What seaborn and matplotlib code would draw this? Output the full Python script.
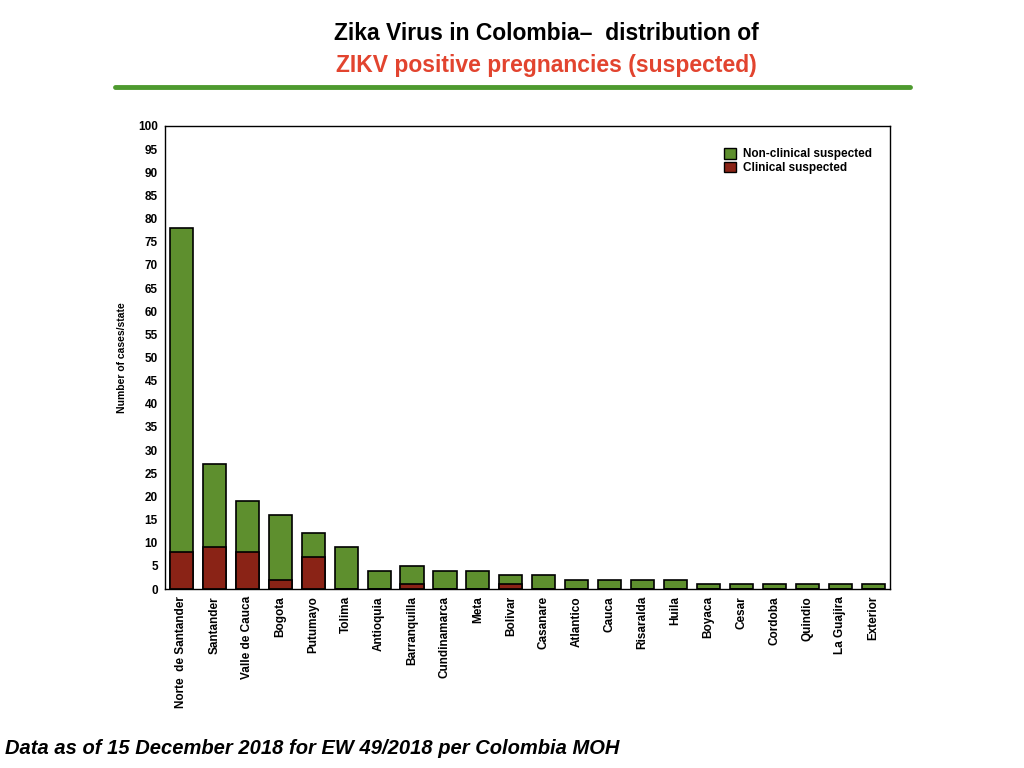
import matplotlib.pyplot as plt
import pandas as pd
import seaborn as sns
from matplotlib.patches import Patch
from matplotlib.lines import Line2D

states = ["Norte  de Santander", "Santander", "Valle de Cauca", "Bogota", "Putumayo",
          "Tolima", "Antioquia", "Barranquilla", "Cundinamarca", "Meta", "Bolivar",
          "Casanare", "Atlantico", "Cauca", "Risaralda", "Huila", "Boyaca", "Cesar",
          "Cordoba", "Quindio", "La Guajira", "Exterior"]
total_cases = [78, 27, 19, 16, 12, 9, 4, 5, 4, 4, 3, 3, 2, 2, 2, 2, 1, 1, 1, 1, 1, 1]
clinical = [8, 9, 8, 2, 7, 0, 0, 1, 0, 0, 1, 0, 0, 0, 0, 0, 0, 0, 0, 0, 0, 0]

df = pd.DataFrame({"state": states, "total": total_cases, "clinical": clinical})

green = "#5e8f2e"
red = "#8a2316"

sns.set_style("white")
plt.rcParams['font.family'] = ['Liberation Sans', 'DejaVu Sans']
plt.rcParams['text.color'] = 'black'
plt.rcParams['axes.labelcolor'] = 'black'
plt.rcParams['xtick.color'] = 'black'
plt.rcParams['ytick.color'] = 'black'

fig = plt.figure(figsize=(10.24, 7.68), dpi=100)
ax = fig.add_axes([0.161, 0.233, 0.708, 0.603])

# total bar in green, clinical part drawn over it in red
sns.barplot(data=df, x="state", y="total", color=green, edgecolor="black",
            linewidth=1.2, width=0.7, saturation=1, ax=ax)
sns.barplot(data=df, x="state", y="clinical", color=red, edgecolor="black",
            linewidth=1.2, width=0.7, saturation=1, ax=ax)

ax.set_ylim(0, 100)
ax.set_xlim(-0.5, len(states) - 0.5)
ax.set_yticks(range(0, 101, 5))
ax.tick_params(axis="both", length=0, labelsize=8.5, pad=5)
for lbl in ax.get_yticklabels():
    lbl.set_fontweight("bold")
ax.set_xticks(range(len(states)))
ax.set_xticklabels(states, rotation=90, fontweight="bold", fontsize=8.5, va="top")
ax.set_xlabel("")
ax.set_ylabel("Number of cases/state", fontsize=7.5, fontweight="bold", labelpad=8)
for s in ax.spines.values():
    s.set_color("black")
    s.set_linewidth(1)

handles = [Patch(facecolor=green, edgecolor="black", label="Non-clinical suspected"),
           Patch(facecolor=red, edgecolor="black", label="Clinical suspected")]
ax.legend(handles=handles, loc="upper right", bbox_to_anchor=(0.99, 0.975), frameon=False,
          prop={"weight": "bold", "size": 8.5}, handlelength=1.0, handleheight=1.0,
          handletextpad=0.6, labelspacing=0.1)

fig.text(0.534, 0.957, "Zika Virus in Colombia\u2013  distribution of", ha="center", va="center",
         fontsize=16.5, fontweight="bold", color="black")
fig.text(0.534, 0.915, "ZIKV positive pregnancies (suspected)", ha="center", va="center",
         fontsize=16.5, fontweight="bold", color="#e2442f")
fig.add_artist(Line2D([0.112, 0.889], [0.887, 0.887], color="#4e9a2f", linewidth=3.5))

fig.text(0.005, 0.025, "Data as of 15 December 2018 for EW 49/2018 per Colombia MOH", ha="left",
         va="center", fontsize=14.5, fontweight="bold", fontstyle="italic", color="black")

fig.savefig("out.png", dpi=100)
